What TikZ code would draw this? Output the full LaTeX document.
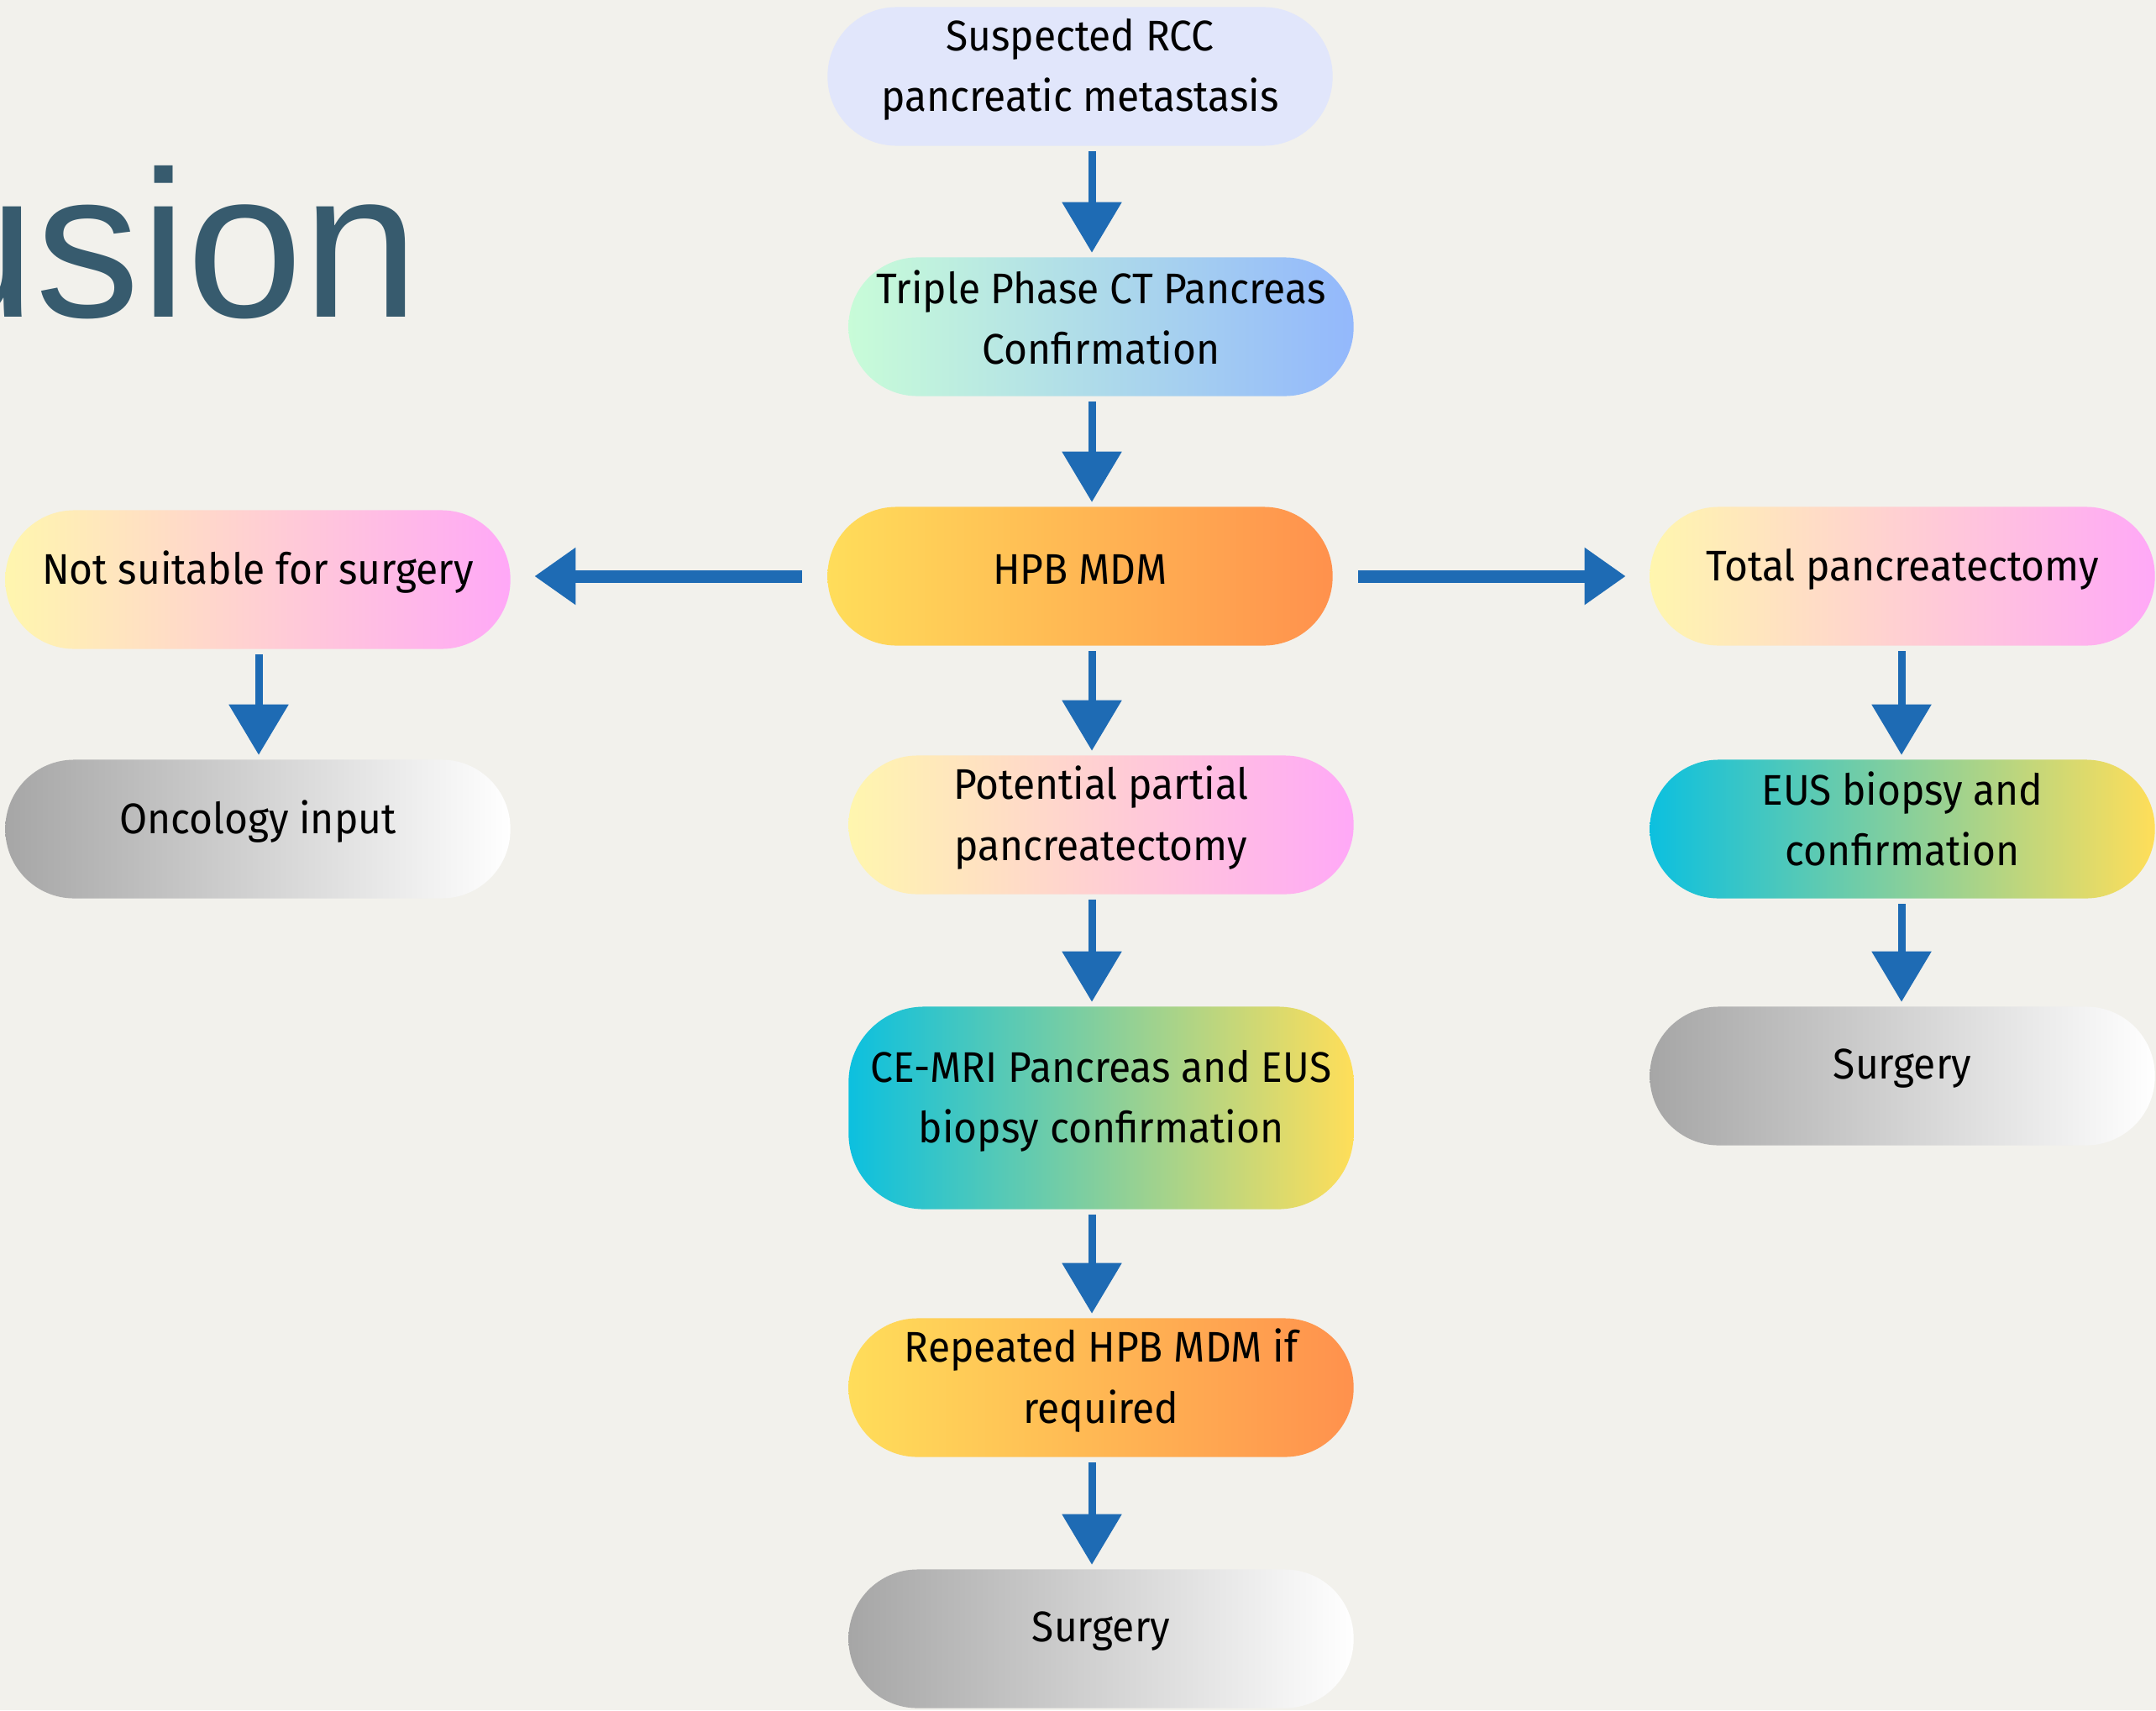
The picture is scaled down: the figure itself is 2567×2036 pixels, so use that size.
\documentclass[tikz,border=0pt]{standalone}
\usepackage{fontspec}
\setmainfont[FakeStretch=0.94]{Fira Sans}
\newfontfamily\titlefont{Liberation Sans}
\usetikzlibrary{arrows.meta}
\definecolor{bg}{HTML}{F2F1EC}
\definecolor{arrowblue}{HTML}{1E6BB4}
\definecolor{titlecol}{HTML}{375B6E}
\definecolor{lav}{HTML}{E1E6FB}
\definecolor{mint}{HTML}{C8FCD8}
\definecolor{skyb}{HTML}{93B8FC}
\definecolor{yel}{HTML}{FFDD5A}
\definecolor{ora}{HTML}{FF914D}
\definecolor{cream}{HTML}{FFF6AE}
\definecolor{pinkk}{HTML}{FFA8F7}
\definecolor{grayl}{HTML}{A6A6A6}
\definecolor{cyanc}{HTML}{0CC0DF}
\definecolor{yel2}{HTML}{FFDE59}
\definecolor{midgt}{HTML}{BCD0A2}
\tikzset{
  pill/.style={rectangle, minimum width=6.01cm, minimum height=1.65cm, rounded corners=0.82cm, inner sep=0pt, draw=none},
  tallpill/.style={pill, minimum height=2.41cm, rounded corners=0.9cm},
  txt/.style={align=center, inner sep=0pt, font=\fontsize{14.5}{20.5}\selectfont, text=black},
  varrow/.style={draw=arrowblue, line width=0.09cm, -{Triangle[length=0.6cm, width=0.69cm]}, shorten <=0.06cm, shorten >=0.05cm},
  harrow/.style={draw=arrowblue, line width=0.15cm, -{Triangle[length=0.49cm, width=0.65cm]}, shorten <=0.3cm, shorten >=0.28cm},
  gl/.style={left color=mint, right color=skyb},
  go/.style={left color=yel, right color=ora},
  gp/.style={left color=cream, right color=pinkk},
  gg/.style={left color=grayl, right color=white},
  gc/.style={left color=cyanc, middle color=midgt, right color=yel2}
}
\begin{document}
\begin{tikzpicture}[x=0.01cm,y=-0.01cm]
\path[use as bounding box, fill=bg] (0,0) rectangle (2567,2036);

\node[anchor=base east, inner sep=0pt, text=titlecol, font=\titlefont\fontsize{70.7}{80}\selectfont] (title) at (500,377) {Conclusion};

% nodes
\node[pill, fill=lav] (n1) at (1286,91) {};
\node[pill, gl] (n2) at (1311,389) {};
\node[pill, go] (n3) at (1286,686) {};
\node[pill, gp] (n4) at (307,690) {};
\node[pill, gg] (n5) at (307,987) {};
\node[pill, gp] (n6) at (2265,686) {};
\node[pill, gp] (n7) at (1311,982) {};
\node[pill, gc] (n8) at (2265,987) {};
\node[tallpill, gc] (n9) at (1311,1319) {};
\node[pill, gg] (n10) at (2265,1281) {};
\node[pill, go] (n11) at (1311,1652) {};
\node[pill, gg] (n12) at (1311,1951) {};

% texts
\tikzset{tup/.style={yshift=0.085cm}}
\node[txt] (t1) at ([tup]n1.center) {Suspected RCC\\pancreatic metastasis};
\node[txt] (t2) at ([yshift=0.11cm]n2.center) {Triple Phase CT Pancreas\\Confirmation};
\node[txt] (t3) at ([tup]n3.center) {HPB MDM};
\node[txt] (t4) at ([tup]n4.center) {Not suitable for surgery};
\node[txt] (t5) at ([tup]n5.center) {Oncology input};
\node[txt] (t6) at ([tup]n6.center) {Total pancreatectomy};
\node[txt] (t7) at ([tup]n7.center) {Potential partial\\pancreatectomy};
\node[txt] (t8) at ([yshift=0.12cm]n8.center) {EUS biopsy and\\confirmation};
\node[txt] (t9) at ([tup]n9.center) {CE-MRI Pancreas and EUS\\biopsy confirmation};
\node[txt] (t10) at ([tup]n10.center) {Surgery};
\node[txt] (t11) at ([tup]n11.center) {Repeated HPB MDM if\\required};
\node[txt] (t12) at ([tup]n12.center) {Surgery};

% column coordinates
\coordinate (cx) at (1300,0);
\coordinate (lx) at (308,0);
\coordinate (rx) at (2264,0);

% connectors
\draw[varrow] (n1.south -| cx) -- (n2.north -| cx);
\draw[varrow] (n2.south -| cx) -- (n3.north -| cx);
\draw[varrow] (n3.south -| cx) -- (n7.north -| cx);
\draw[varrow] (n7.south -| cx) -- (n9.north -| cx);
\draw[varrow] (n9.south -| cx) -- (n11.north -| cx);
\draw[varrow] (n11.south -| cx) -- (n12.north -| cx);
\draw[varrow] (n4.south -| lx) -- (n5.north -| lx);
\draw[varrow] (n6.south -| rx) -- (n8.north -| rx);
\draw[varrow] (n8.south -| rx) -- (n10.north -| rx);
\draw[harrow] (n3.west) -- (n3.west -| n4.east);
\draw[harrow] (n3.east) -- (n3.east -| n6.west);
\end{tikzpicture}
\end{document}
